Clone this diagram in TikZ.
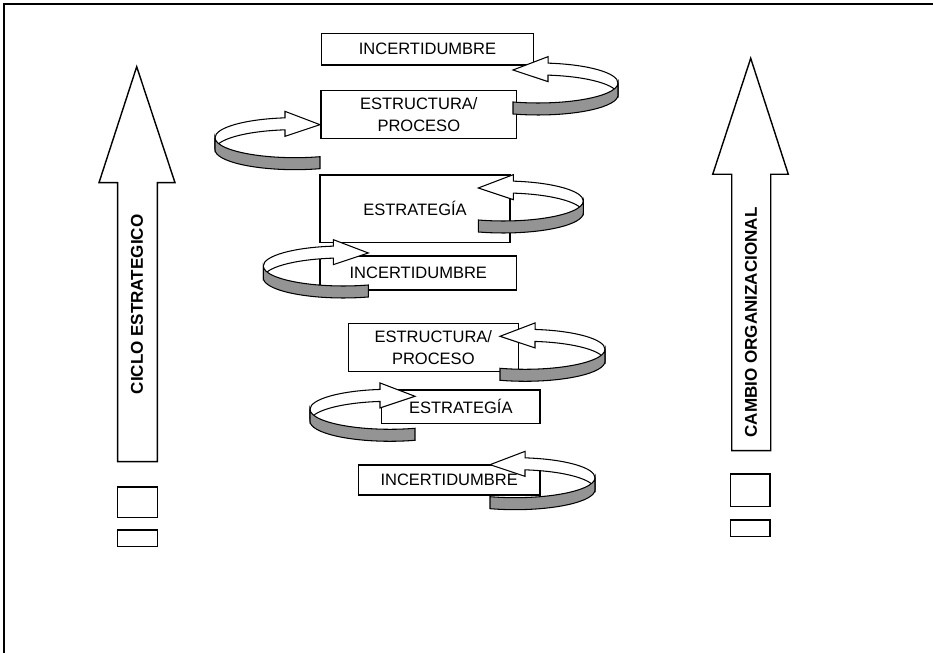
\documentclass[tikz,border=0pt]{standalone}
\usepackage{fontspec}
\setmainfont{Liberation Sans}
\usepackage{xcolor}
\usetikzlibrary{positioning,calc}

\begin{document}
\begin{tikzpicture}[
    box/.style={rectangle, draw, thick, fill=white, inner sep=0pt, align=center, font=\fontsize{9.4}{12.3}\selectfont},
    smallbox/.style={rectangle, draw, thick, inner sep=0pt, minimum width=0.79cm},
    bigarrow/.style={draw, thick, fill=white, line join=miter},
    sidetext/.style={rotate=90, inner sep=0pt, font=\bfseries\fontsize{9.7}{11}\selectfont},
    swirl/.pic={
        % back of the ribbon, with the head
        \filldraw[fill=white, draw=black, line width=0.6pt]
            (2.1,0.38) arc[start angle=0, end angle=82.8, x radius=1.6, y radius=0.4]
            -- ++(0,0.13) -- (0,0.64) -- (0.7,0.407) -- ++(0,0.13)
            arc[start angle=82.8, end angle=0, x radius=1.6, y radius=0.4] -- cycle;
        % front of the ribbon
        \filldraw[fill=black!42, draw=black, line width=0.6pt]
            (2.1,0.38) arc[start angle=0, end angle=-108.2, x radius=1.6, y radius=0.4]
            -- ++(0,-0.24)
            arc[start angle=-108.2, end angle=0, x radius=1.6, y radius=0.4] -- cycle;
    }
]
\useasboundingbox (0,0) rectangle (18.66,13.06);

% Frame
\draw[line width=1.3pt] (0.08,0) -- (0.08,12.98) -- (18.66,12.98);

% Left column
\draw[bigarrow] (2.354,3.826) -- (2.354,9.406) -- (1.98,9.406) -- (2.734,11.726)
    -- (3.5,9.406) -- (3.146,9.406) -- (3.146,3.826) -- cycle;
\node[sidetext] (ciclo) at (2.74,6.97) {CICLO ESTRATEGICO};
\node[smallbox, minimum height=0.614cm] (ciclo1) at (2.75,3.013) {};
\node[smallbox, minimum height=0.334cm] (ciclo2) at (2.75,2.293) {};

% Right column
\draw[bigarrow] (14.634,4.046) -- (14.634,9.574) -- (14.254,9.574) -- (15.014,11.894)
    -- (15.766,9.574) -- (15.414,9.574) -- (15.414,4.046) -- cycle;
\node[sidetext] (cambio) at (15.02,6.61) {CAMBIO ORGANIZACIONAL};
\node[smallbox, minimum height=0.654cm] (cambio1) at (15.007,3.253) {};
\node[smallbox, minimum height=0.334cm] (cambio2) at (15.007,2.493) {};

% Central stack
\node[box, minimum width=4.232cm, minimum height=0.634cm] (inc1) at (8.55,12.076) {INCERTIDUMBRE};
\node[box, minimum width=3.914cm, minimum height=0.952cm] (est1) at (8.376,10.77) {ESTRUCTURA/\\PROCESO};
\node[box, minimum width=3.8cm, minimum height=1.354cm] (str1) at (8.3,8.884) {ESTRATEGÍA};
\node[box, minimum width=3.934cm, minimum height=0.68cm] (inc2) at (8.366,7.6) {INCERTIDUMBRE};
\node[box, minimum width=3.4cm, minimum height=0.968cm] (est2) at (8.666,6.11) {ESTRUCTURA/\\PROCESO};
\node[box, minimum width=3.166cm, minimum height=0.666cm] (str2) at (9.216,4.926) {ESTRATEGÍA};
\node[box, minimum width=3.634cm, minimum height=0.6cm] (inc3) at (8.984,3.46) {INCERTIDUMBRE};

% Turning arrows
\pic (r1) at (10.26,11.02) {swirl};
\pic[xscale=-1] (l1) at (6.4,9.926) {swirl};
\pic (r2) at (9.566,8.66) {swirl};
\pic[xscale=-1] (l2) at (7.366,7.36) {swirl};
\pic (r3) at (10.0,5.694) {swirl};
\pic[xscale=-1] (l3) at (8.3,4.494) {swirl};
\pic (r4) at (9.8,3.126) {swirl};

\end{tikzpicture}
\end{document}
